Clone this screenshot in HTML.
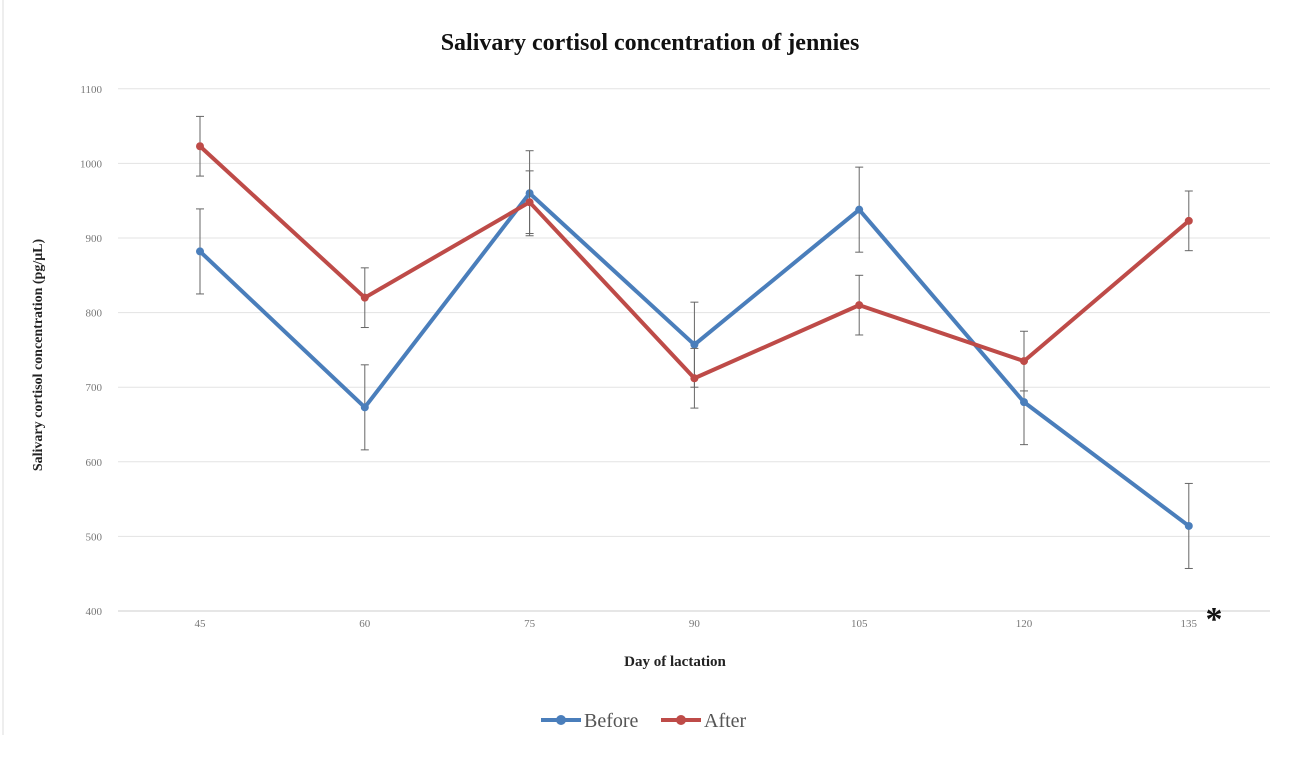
<!DOCTYPE html>
<html><head><meta charset="utf-8"><style>
body{margin:0;background:#fff;}
svg text{font-family:"Liberation Serif",serif;}
</style></head><body>
<svg width="1297" height="757">
<rect x="0" y="0" width="1297" height="757" fill="#fff"/>
<line x1="3" y1="0" x2="3" y2="735" stroke="#ddd"/>
<text x="650" y="50" text-anchor="middle" font-size="24" font-weight="bold" fill="#111">Salivary cortisol concentration of jennies</text>
<g id="grid"></g><g id="series"></g>
<text transform="translate(42,355) rotate(-90)" text-anchor="middle" font-size="14" font-weight="bold" fill="#222">Salivary cortisol concentration (pg/μL)</text>
<text x="675" y="666" text-anchor="middle" font-size="15" font-weight="bold" fill="#222">Day of lactation</text>
<text x="1214" y="630" text-anchor="middle" font-size="34" font-weight="bold" fill="#111">*</text>
<g>
<line x1="541" y1="720" x2="581" y2="720" stroke="#4a7ebb" stroke-width="4"/><circle cx="561" cy="720" r="5" fill="#4a7ebb"/>
<text x="584" y="727" font-size="20" fill="#555">Before</text></g>
<g>
<line x1="661" y1="720" x2="701" y2="720" stroke="#be4b48" stroke-width="4"/><circle cx="681" cy="720" r="5" fill="#be4b48"/>
<text x="704" y="727" font-size="20" fill="#555">After</text></g>
</svg>
<script>
const days=[45,60,75,90,105,120,135];
const yTicks=[400,500,600,700,800,900,1000,1100];
const before=[882,673,960,757,938,680,514];
const beforeErr=[57,57,57,57,57,57,57];
const after=[1023,820,948,712,810,735,923];
const afterErr=[40,40,42,40,40,40,40];
const NS="http://www.w3.org/2000/svg";
function xs(i){return 200+i*164.8;}
function ys(v){return 611-(v-400)*0.746;}
function mk(t,a,p){const e=document.createElementNS(NS,t);for(const k in a)e.setAttribute(k,a[k]);p.appendChild(e);return e;}
const g=document.getElementById('grid');
yTicks.forEach(v=>{
 const l=mk('line',{x1:118,x2:1270,y1:ys(v),y2:ys(v),stroke:v===400?'#ccc':'#e3e3e3','stroke-width':1},g);
 
 
 const t=mk('text',{x:102,y:ys(v)+4,'text-anchor':'end','font-size':11,fill:'#777'},g);t.textContent=v;
 
 
});
days.forEach((d,i)=>{
 const t=mk('text',{x:xs(i),y:627,'text-anchor':'middle','font-size':11,fill:'#777'},g);t.textContent=d;
 
 
});
const s=document.getElementById('series');
function draw(vals,errs,col,name){
 const grp=mk('g',{},s);
 
 
 vals.forEach((v,i)=>{
  const x=xs(i);
  mk('line',{x1:x,x2:x,y1:ys(v+errs[i]),y2:ys(v-errs[i]),stroke:'#666','stroke-width':1},grp);
  mk('line',{x1:x-4,x2:x+4,y1:ys(v+errs[i]),y2:ys(v+errs[i]),stroke:'#666'},grp);
  mk('line',{x1:x-4,x2:x+4,y1:ys(v-errs[i]),y2:ys(v-errs[i]),stroke:'#666'},grp);
 });
 const p=mk('polyline',{points:vals.map((v,i)=>xs(i)+','+ys(v)).join(' '),fill:'none',stroke:col,'stroke-width':4,'stroke-linejoin':'round'},grp);
 
 
 vals.forEach((v,i)=>{
  const c=mk('circle',{cx:xs(i),cy:ys(v),r:4,fill:col},grp);
  
  
 });
}
draw(before,beforeErr,'#4a7ebb','before');
draw(after,afterErr,'#be4b48','after');
</script>
</body></html>
